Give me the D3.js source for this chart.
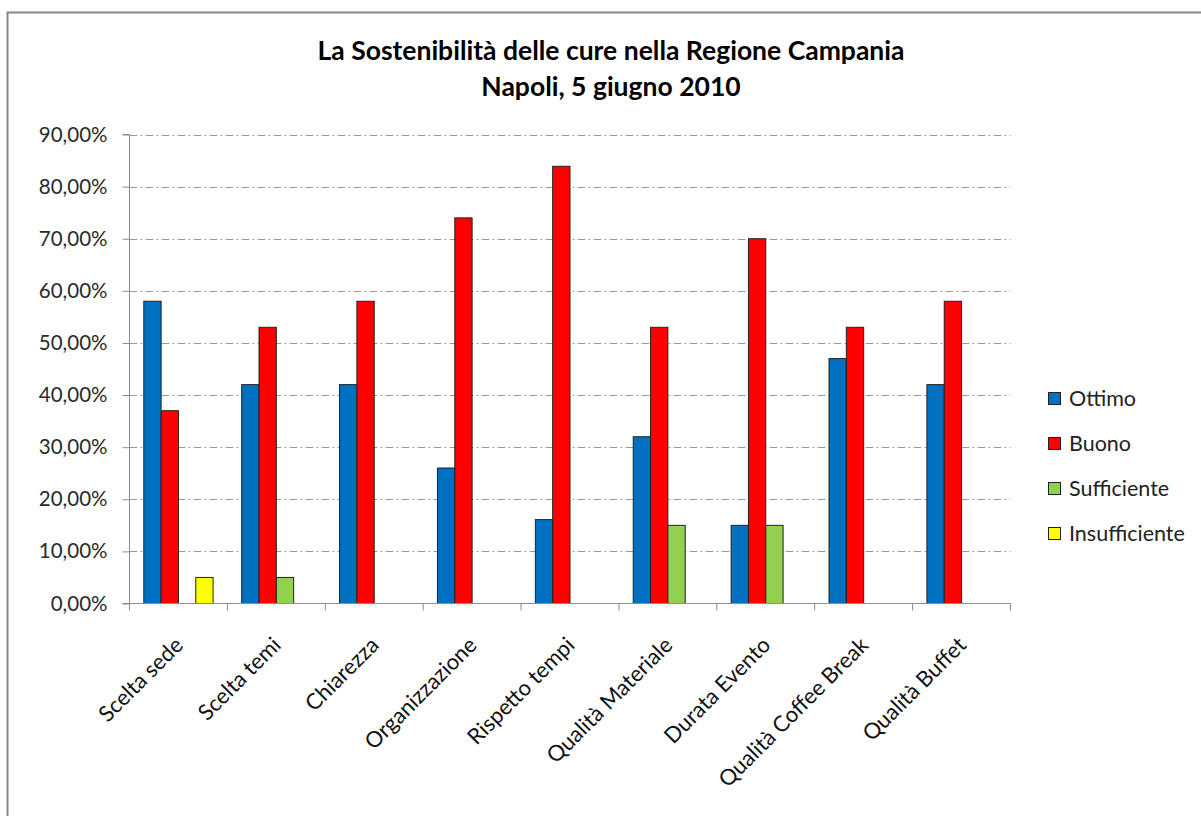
<!DOCTYPE html>
<html>
<head>
<meta charset="utf-8">
<script src="https://cdn.jsdelivr.net/npm/d3@7"></script>
<style>
  html, body { margin: 0; padding: 0; background: #fff; }
  svg { display: block; }
  text { font-family: Lato, "Open Sans", sans-serif; }
</style>
</head>
<body>
<svg id="chart" width="1201" height="816"></svg>
<script>
const titleLines = ["La Sostenibilità delle cure nella Regione Campania", "Napoli, 5 giugno 2010"];
const categories = ["Scelta sede", "Scelta temi", "Chiarezza", "Organizzazione", "Rispetto tempi",
  "Qualità Materiale", "Durata Evento", "Qualità Coffee Break", "Qualità Buffet"];
const seriesNames = ["Ottimo", "Buono", "Sufficiente", "Insufficiente"];
const seriesColors = ["#0070C0", "#FF0000", "#92D050", "#FFFF00"];
const ottimo = [58, 42, 42, 26, 16.1, 32, 15, 47, 42];
const buono = [37, 53, 58, 74, 83.9, 53, 70, 53, 58];
const sufficiente = [0, 5, 0, 0, 0, 15, 15, 0, 0];
const insufficiente = [5, 0, 0, 0, 0, 0, 0, 0, 0];
const yTicks = [0, 10, 20, 30, 40, 50, 60, 70, 80, 90];

const seriesValues = [ottimo, buono, sufficiente, insufficiente];

const svg = d3.select("#chart");

// outer frame
svg.append("path").attr("d", "M7.5,816 V12.5 H1201").attr("fill", "none").attr("stroke", "#868686").attr("stroke-width", 2);

const pLeft = 129.5, pRight = 1010.5, pTop = 134.5, pBottom = 603.5;
const x0 = d3.scaleBand().domain(categories).range([pLeft, pRight]).paddingInner(0).paddingOuter(0);
const x1 = d3.scaleBand().domain(seriesNames).range([0, x0.bandwidth()]).paddingInner(0).paddingOuter(0.825);
const y = d3.scaleLinear().domain([0, 90]).range([pBottom, pTop]);

// gridlines
svg.append("g").selectAll("line").data(yTicks.filter(d => d > 0)).join("line")
  .attr("x1", pLeft).attr("x2", pRight)
  .attr("y1", d => Math.round(y(d)) + 0.5).attr("y2", d => Math.round(y(d)) + 0.5)
  .attr("stroke", "#9a9a9a").attr("stroke-width", 1)
  .attr("stroke-dasharray", "8,3,2,3");

// bars
const groups = svg.append("g").selectAll("g").data(categories).join("g")
  .attr("transform", d => `translate(${x0(d)},0)`);
groups.selectAll("rect").data((c, i) => seriesNames.map((s, j) => ({ s, j, v: seriesValues[j][i] })).filter(d => d.v > 0))
  .join("rect")
  .attr("x", d => x1(d.s))
  .attr("width", x1.bandwidth())
  .attr("y", d => y(d.v))
  .attr("height", d => y(0) - y(d.v))
  .attr("fill", d => seriesColors[d.j])
  .attr("stroke", "#222").attr("stroke-width", 1);

// y axis
const yAxis = d3.axisLeft(y).tickValues(yTicks).tickSize(7).tickPadding(15)
  .tickFormat(d => d3.format(".2f")(d).replace(".", ",") + "%");
const gy = svg.append("g").attr("transform", `translate(${pLeft},0)`).call(yAxis);
gy.select(".domain").attr("stroke", "#8c8c8c").attr("d", `M-7,${pBottom}H0V${pTop}H-7`);
gy.selectAll(".tick line").attr("stroke", "#8c8c8c");
gy.selectAll(".tick text").attr("font-size", 20.5).attr("fill", "#2a2a2a").attr("font-family", "Lato, sans-serif");

// x axis
const gx = svg.append("g").attr("transform", `translate(0,${pBottom})`);
gx.append("line").attr("x1", pLeft - 7).attr("x2", pRight).attr("y1", 0).attr("y2", 0).attr("stroke", "#8c8c8c");
const boundaries = categories.map(c => x0(c)).concat([pRight]);
gx.selectAll("line.tk").data(boundaries).join("line").attr("class", "tk")
  .attr("x1", d => d).attr("x2", d => d).attr("y1", 0).attr("y2", 7).attr("stroke", "#8c8c8c");
gx.selectAll("text").data(categories).join("text")
  .attr("transform", d => `translate(${x0(d) + x0.bandwidth() / 2 + 6},${43}) rotate(-45)`)
  .attr("text-anchor", "end")
  .attr("font-size", 22)
  .attr("fill", "#111")
  .text(d => d);

// title
svg.append("g").selectAll("text").data(titleLines).join("text")
  .attr("x", 611).attr("y", (d, i) => 60 + i * 36)
  .attr("text-anchor", "middle").attr("font-size", 26.5).attr("font-weight", "bold").attr("fill", "#000")
  .text(d => d);

// legend
const lg = svg.append("g").selectAll("g").data(seriesNames).join("g")
  .attr("transform", (d, i) => `translate(1048,${398 + i * 45})`);
lg.append("rect").attr("x", 0.5).attr("y", -5.5).attr("width", 12).attr("height", 12)
  .attr("fill", (d, i) => seriesColors[i]).attr("stroke", "#222");
lg.append("text").attr("x", 21).attr("y", 0).attr("dy", "0.36em").attr("font-size", 21.5).attr("fill", "#222").text(d => d);
</script>
</body>
</html>
